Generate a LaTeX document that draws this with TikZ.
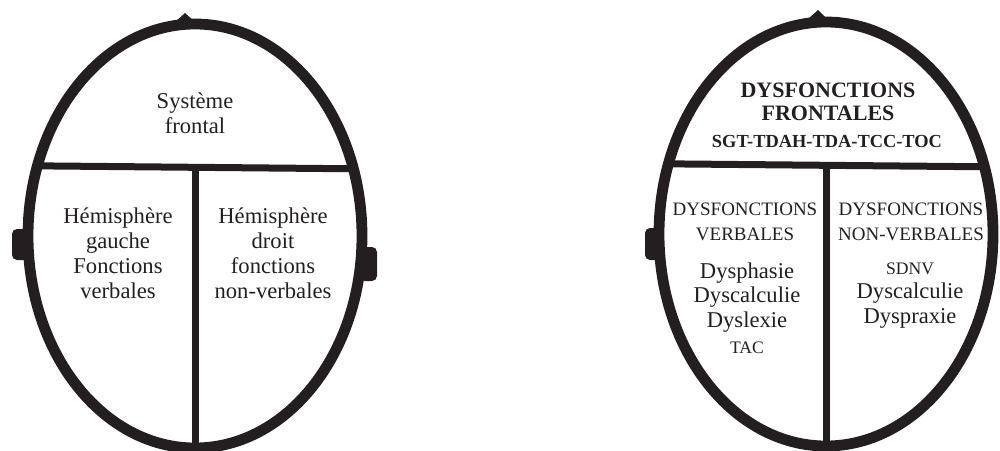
\documentclass[tikz,border=0pt]{standalone}
\usepackage{fontspec}
\setmainfont{Liberation Serif}
\usetikzlibrary{shapes.geometric,positioning}
\definecolor{encre}{RGB}{35,31,32}

\begin{document}
\begin{tikzpicture}[x=0.5pt, y=-0.5pt, encre,
    tete/.style={ellipse, draw, line width=5.4pt, minimum width=167pt, minimum height=212pt, inner sep=0pt, outer sep=0pt},
    trait/.style={line width=3.5pt},
    oreille/.style={fill, rounded corners=2.5pt},
    txt/.style={align=center, anchor=base, inner sep=0pt, font=\rmfamily\fontsize{11.3}{12.5}\selectfont},
    titre/.style={txt, font=\rmfamily\fontsize{11}{11.5}\selectfont\bfseries},
    caps/.style={txt, font=\rmfamily\fontsize{9.5}{12.5}\selectfont},
    sigle/.style={txt, font=\rmfamily\fontsize{8.8}{12}\selectfont}]
    \useasboundingbox (0,0) rectangle (1000,450);

    % tete de gauche
    \node[tete] (g) at (195,236) {};
    \draw[trait] (g.156.5) -- (g.23.5);
    \draw[trait] (g.south) -- (g.south |- g.23.5);
    \fill[oreille] (12,229) rectangle (30,260);
    \fill[oreille] (360,247) rectangle (377,281);
    \fill (175,22) -- (185,13) -- (195,22) -- cycle;
    % (base = derniere ligne)
    \node[txt] (front) at (195,133) {Système\\frontal};
    \node[txt] (hg) at (118,298) {Hémisphère\\gauche\\Fonctions\\verbales};
    \node[txt] (hd) at (273,298) {Hémisphère\\droit\\fonctions\\non-verbales};

    % tete de droite
    \node[tete] (d) at (826,234) {};
    \draw[trait] (d.156.5) -- (d.23.5);
    \draw[trait] (d.south) -- (d.south |- d.23.5);
    \fill[oreille] (645,228) rectangle (663,260);
    \fill (807,20) -- (818,10) -- (828,20) -- cycle;
    \node[titre] (dfront) at (828,120) {DYSFONCTIONS\\FRONTALES};
    \node[sigle, font=\rmfamily\fontsize{9.2}{12}\selectfont\bfseries] (sgt) at (827,147) {SGT-TDAH-TDA-TCC-TOC};
    \node[caps] (dverb) at (745,240) {DYSFONCTIONS\\VERBALES};
    \node[txt, font=\rmfamily\fontsize{11.3}{12.2}\selectfont] (lverb) at (747,327) {Dysphasie\\Dyscalculie\\Dyslexie};
    \node[sigle] (tac) at (747,353) {TAC};
    \node[caps] (dnonv) at (911,240) {DYSFONCTIONS\\NON-VERBALES};
    \node[sigle] (sdnv) at (910,274) {SDNV};
    \node[txt, font=\rmfamily\fontsize{11.3}{12.2}\selectfont] (lnonv) at (910,323) {Dyscalculie\\Dyspraxie};
\end{tikzpicture}
\end{document}
